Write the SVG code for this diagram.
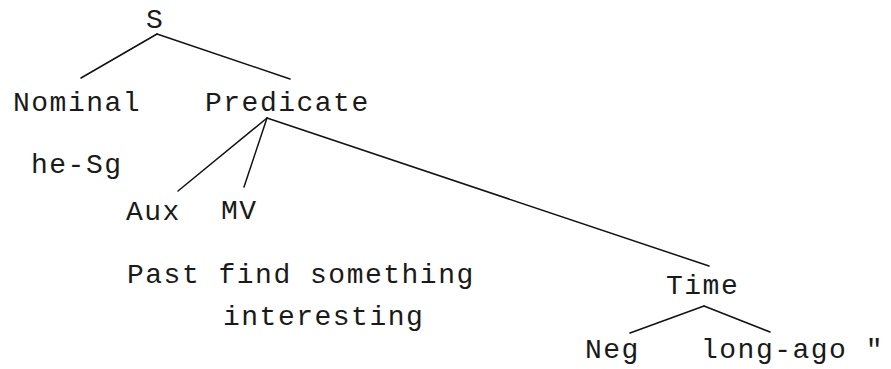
<svg xmlns="http://www.w3.org/2000/svg" width="891" height="369" viewBox="0 0 891 369">
<style>
text{font-family:"Liberation Mono","DejaVu Sans Mono",monospace;font-size:28px;letter-spacing:1.5px;fill:#1a1a1a}
.c line{stroke:#111;stroke-width:1.5;stroke-linecap:round}
</style>
<rect width="891" height="369" fill="#fff"/>
<g class="c" id="connectors">
<line x1="157" y1="34" x2="81" y2="78"/>
<line x1="157" y1="34" x2="290" y2="79"/>
<line x1="267" y1="118" x2="178" y2="191"/>
<line x1="267" y1="118" x2="244" y2="187"/>
<line x1="267" y1="118" x2="709" y2="266"/>
<line x1="704" y1="306" x2="630" y2="333"/>
<line x1="704" y1="306" x2="770" y2="332"/>
</g>
<g id="S"><text x="146" y="28">S</text></g>
<g id="Nominal"><text x="13" y="111">Nominal</text></g>
<g id="Predicate"><text x="205" y="111">Predicate</text></g>
<g id="he-Sg"><text x="31" y="173">he-Sg</text></g>
<g id="Aux"><text x="126" y="220">Aux</text></g>
<g id="MV"><text x="221" y="219">MV</text></g>
<g id="gloss"><text x="127" y="283">Past find something</text><text x="223" y="325">interesting</text></g>
<g id="Time"><text x="666" y="294">Time</text></g>
<g id="Neg"><text x="585" y="358">Neg</text></g>
<g id="long-ago"><text x="701" y="358">long-ago "</text></g>
</svg>
